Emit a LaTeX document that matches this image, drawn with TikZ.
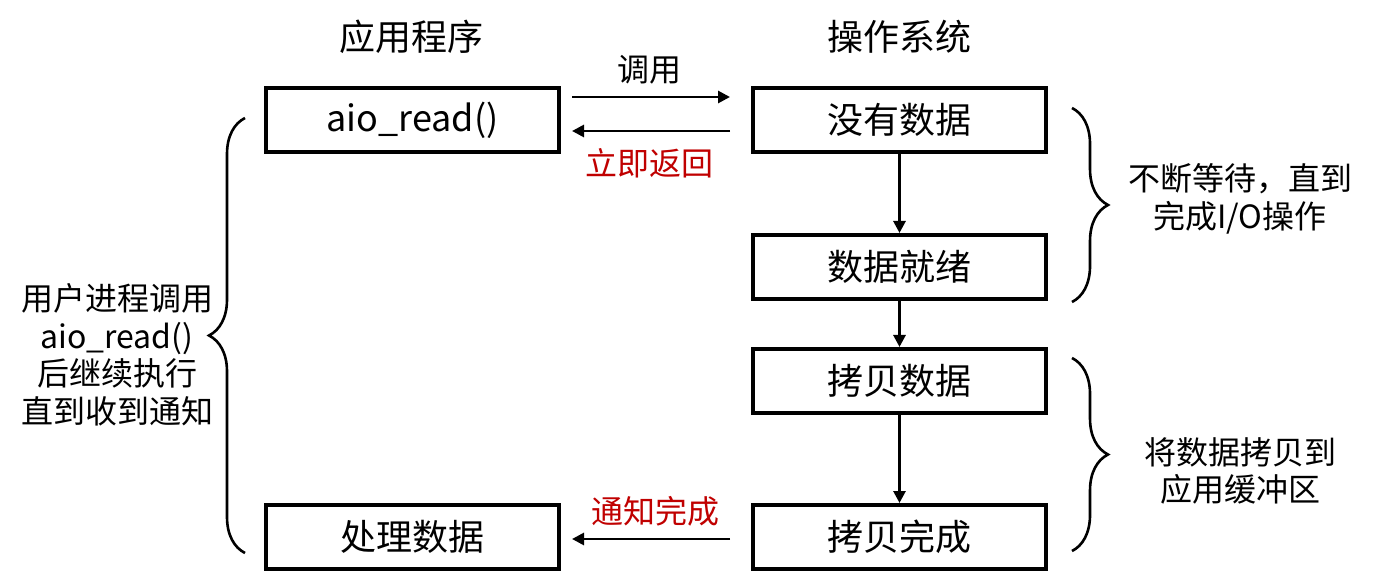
\documentclass[tikz,border=0pt]{standalone}
\usepackage{fontspec}
\setmainfont{Noto Sans CJK SC}
\usetikzlibrary{decorations.pathreplacing,arrows.meta}
\definecolor{darkred}{RGB}{192,0,0}
\begin{document}
\begin{tikzpicture}[x=0.5pt,y=-0.5pt,
  box/.style={draw,line width=2pt,minimum width=146.5pt,minimum height=32pt,inner sep=0pt,font=\fontsize{18}{21}\selectfont},
  head/.style={font=\fontsize{18}{21}\selectfont},
  lbl/.style={font=\fontsize{16}{18.75}\selectfont,align=center,inner sep=0pt},
  redlbl/.style={lbl,text=darkred},
  conn/.style={line width=1.4pt,-{Triangle[length=6pt,width=6pt]}},
  brc/.style={decorate,decoration={brace,amplitude=18pt},line width=1.3pt}]
\useasboundingbox (0,0) rectangle (1374,582);
% headers
\node[head] (happ) at (411,37) {应用程序};
\node[head] (hos) at (899,37) {操作系统};
% left column
\node[box] (aio) at (412.5,120) {aio\_read()};
\node[box] (proc) at (412.5,537) {处理数据};
% right column
\node[box] (nodata) at (899.5,120) {没有数据};
\node[box] (ready) at (899.5,267) {数据就绪};
\node[box] (copy) at (899.5,381) {拷贝数据};
\node[box] (done) at (899.5,537) {拷贝完成};
% horizontal arrows
\draw[conn,shorten <=5.5pt,shorten >=10.5pt] ([yshift=11.5pt]aio.east) -- ([yshift=11.5pt]nodata.west);
\draw[conn,shorten <=10.5pt,shorten >=5.5pt] ([yshift=-5.5pt]nodata.west) -- ([yshift=-5.5pt]aio.east);
\draw[conn,shorten <=10.5pt,shorten >=5.5pt] ([yshift=-1pt]done.west) -- ([yshift=-1pt]proc.east);
% vertical arrows
\draw[conn] (nodata.south) -- (ready.north);
\draw[conn] (ready.south) -- (copy.north);
\draw[conn] (copy.south) -- (done.north);
% labels on arrows
\node[lbl] (call) at (649,70) {调用};
\node[redlbl] (ret) at (649,163) {立即返回};
\node[redlbl] (notify) at (655,511) {通知完成};
% braces
\coordinate (b1t) at (1072,108);
\coordinate (b1b) at (1072,302);
\coordinate (b2t) at (1072,358);
\coordinate (b2b) at (1072,551);
\coordinate (b3t) at (245,118);
\coordinate (b3b) at (245,553);
\draw[brc] (b1t) -- (b1b);
\draw[brc] (b2t) -- (b2b);
\draw[brc] (b3b) -- (b3t);
\node[lbl] (wait) at (1240,199) {不断等待，直到\\完成I/O操作};
\node[lbl] (tobuf) at (1240,471) {将数据拷贝到\\应用缓冲区};
\node[lbl] (user) at (117,355) {用户进程调用\\aio\_read()\\后继续执行\\直到收到通知};
\end{tikzpicture}
\end{document}
